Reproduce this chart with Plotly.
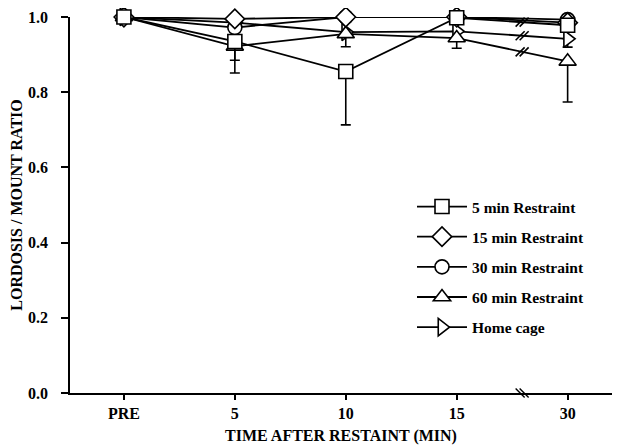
import plotly.graph_objects as go

time_labels = ["PRE", "5", "10", "15", "30"]
x_pos = [0, 1, 2, 3, 4]

sq_5min = [1.0, 0.935, 0.855, 0.998, 0.978]
sq_5min_err = [0, 0.05, 0.142, 0, 0]
dia_15min = [1.0, 0.995, 1.0, 1.0, 0.985]
dia_15min_err = [0, 0, 0, 0, 0]
cir_30min = [1.0, 0.972, 1.0, 1.0, 0.993]
cir_30min_err = [0, 0, 0, 0, 0]
tri_60min = [1.0, 0.922, 0.955, 0.944, 0.882]
tri_60min_err = [0, 0.071, 0.034, 0.027, 0.108]
home_cage = [1.0, 0.985, 0.96, 0.962, 0.942]
home_cage_err = [0, 0, 0, 0, 0.022]

break_x = 3.59

series = [
    # name, values, errors, symbol, legend rank
    ("Home cage", home_cage, home_cage_err, "triangle-right", 5),
    ("60 min Restraint", tri_60min, tri_60min_err, "triangle-up", 4),
    ("30 min Restraint", cir_30min, cir_30min_err, "circle", 3),
    ("15 min Restraint", dia_15min, dia_15min_err, "diamond", 2),
    ("5 min Restraint", sq_5min, sq_5min_err, "square", 1),
]
# series whose line carries a visible break mark
break_series = ["5 min Restraint", "Home cage", "60 min Restraint"]

FONT = "Liberation Serif"
fig = go.Figure()
for name, vals, errs, sym, rank in series:
    size = 14 if sym in ("square", "circle") else 15
    fig.add_trace(go.Scatter(
        x=x_pos, y=vals, name=name, mode="lines+markers",
        legendrank=rank, legendgroup=name,
        line=dict(color="black", width=1.8),
        marker=dict(symbol=sym, size=size, color="white",
                    line=dict(color="black", width=1.6)),
        error_y=dict(type="data", symmetric=False,
                     array=[0] * len(errs), arrayminus=errs,
                     color="black", thickness=1.6, width=5),
        cliponaxis=False,
    ))

# break marks ("//") on the lines between 15 and 30
frac = break_x - 3
bx, by = [], []
for name, vals, errs, sym, rank in series:
    if name not in break_series:
        continue
    yb = vals[3] + (vals[4] - vals[3]) * frac
    for dx in (-0.018, 0.018):
        bx.append(break_x + dx)
        by.append(yb)
fig.add_trace(go.Scatter(
    x=bx, y=by, mode="markers", showlegend=False, hoverinfo="skip",
    marker=dict(symbol="line-ne", size=9, line=dict(color="black", width=1.6)),
    cliponaxis=False,
))
# axis break mark ("\\") on the x axis
fig.add_trace(go.Scatter(
    x=[break_x - 0.018, break_x + 0.018], y=[0, 0], mode="markers",
    showlegend=False, hoverinfo="skip",
    marker=dict(symbol="line-nw", size=9, line=dict(color="black", width=1.4)),
    cliponaxis=False,
))

fig.update_layout(
    width=612, height=437,
    margin=dict(l=62, r=8, t=9, b=52),
    paper_bgcolor="white", plot_bgcolor="white",
    font=dict(family=FONT, size=16, color="black"),
    showlegend=True,
    legend=dict(x=0.631, y=0.54, xanchor="left", yanchor="top",
                bgcolor="rgba(0,0,0,0)", tracegroupgap=7,
                font=dict(family=FONT, size=15.5, weight="bold"),
                itemwidth=50),
    xaxis=dict(
        range=[-0.486, 4.4], tickmode="array", tickvals=x_pos,
        ticktext=time_labels, showline=True, linecolor="black", linewidth=1.6,
        ticks="outside", ticklen=5, tickwidth=1.5, tickcolor="black",
        showgrid=False, zeroline=False, automargin=False,
        tickfont=dict(family=FONT, size=16, weight="bold"),
        title=dict(text="TIME AFTER RESTAINT (MIN)",
                   font=dict(family=FONT, size=16, weight="bold")),
    ),
    yaxis=dict(
        range=[0, 1.0], tickmode="array", tickvals=[0, 0.2, 0.4, 0.6, 0.8, 1.0],
        tickformat=".1f", showline=True, linecolor="black", linewidth=1.6,
        ticks="outside", ticklen=7, tickwidth=1.5, tickcolor="black",
        showgrid=False, zeroline=False, automargin=False,
        ticklabelstandoff=10,
        tickfont=dict(family=FONT, size=16, weight="bold"),
        title=dict(text="LORDOSIS / MOUNT RATIO",
                   font=dict(family=FONT, size=16, weight="bold")),
    ),
)

fig.write_html("out.html")
